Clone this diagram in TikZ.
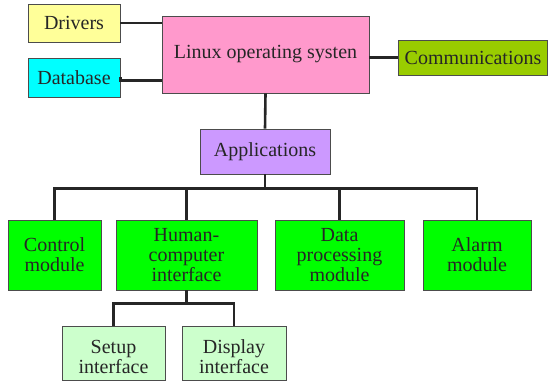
\documentclass[tikz,border=0pt]{standalone}
\usepackage{fontspec}
\setmainfont{Liberation Serif}
\begin{document}
\begin{tikzpicture}[x=1pt, y=-1pt,
    box/.style={draw=black!70, line width=0.8pt, inner sep=0pt, align=center,
        text=black!85, font=\fontsize{20}{20}\selectfont},
    link/.style={line width=2.6pt, draw=black!85}]
% Define colors
\definecolor{driverscol}{RGB}{255, 255, 153}
\definecolor{dbcol}{RGB}{0, 255, 255}
\definecolor{linuxcol}{RGB}{255, 153, 204}
\definecolor{commcol}{RGB}{153, 204, 0}
\definecolor{appcol}{RGB}{204, 153, 255}
\definecolor{modcol}{RGB}{0, 255, 0}
\definecolor{subcol}{RGB}{204, 255, 204}

\useasboundingbox (0, 0) rectangle (548, 382);

% Operating system level
\node[box, fill=linuxcol, minimum width=207, minimum height=77] (linux) at (265.5, 54.5) {Linux operating systen};
\node[box, fill=driverscol, minimum width=92, minimum height=38] (drivers) at (74, 23) {Drivers};
\node[box, fill=dbcol, minimum width=92, minimum height=39] (database) at (74, 77.5) {Database};
\node[box, fill=commcol, minimum width=149, minimum height=35] (comm) at (473, 57.5) {Communications};

% Applications
\node[box, fill=appcol, minimum width=130, minimum height=45] (apps) at (265, 151.5) {Applications};

% Modules
\node[box, fill=modcol, minimum width=93, minimum height=70] (control) at (54.5, 255) {Control\\module};
\node[box, fill=modcol, minimum width=141, minimum height=70] (hci) at (186.5, 255) {Human-\\computer\\interface};
\node[box, fill=modcol, minimum width=129, minimum height=70] (data) at (339.5, 255) {Data\\processing\\module};
\node[box, fill=modcol, minimum width=108, minimum height=70] (alarm) at (477, 255) {Alarm\\module};

% Interfaces
\node[box, fill=subcol, minimum width=103, minimum height=54, text height=44, text depth=4] (setup) at (113.5, 353) {Setup\\interface};
\node[box, fill=subcol, minimum width=104, minimum height=54, text height=44, text depth=4] (display) at (234, 353) {Display\\interface};

% Connectors
\draw[link] (drivers.east) -- (drivers.east -| linux.west);
\draw[link] (database.east) -- ++(0, 3) coordinate (dbhook) -- (dbhook -| linux.west);
\draw[link] (comm.west) -- (comm.west -| linux.east);
\draw[link] (linux.south) -- (apps.north);
\foreach \m in {control, hci, data, alarm}
    \draw[link] (apps.south) -- ++(0, 14) -| (\m.north);
\foreach \m in {setup, display}
    \draw[link] (hci.south) -- ++(0, 13) -| (\m.north);

\end{tikzpicture}
\end{document}
